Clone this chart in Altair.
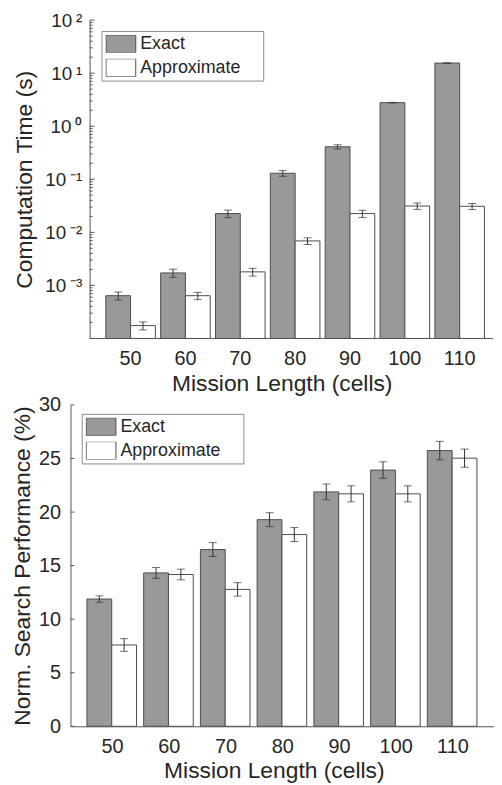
import altair as alt
import pandas as pd

# ---------------- data ----------------
lengths = [50, 60, 70, 80, 90, 100, 110]
series = ["Exact", "Approximate"]

time_exact = [6.4e-4, 1.72e-3, 0.0226, 0.13, 0.41, 2.78, 15.5]
time_exact_err = [1.1e-4, 0.3e-3, 0.0037, 0.016, 0.038, 0.03, 0.15]
time_approx = [1.75e-4, 6.4e-4, 1.8e-3, 6.9e-3, 0.0226, 0.0314, 0.031]
time_approx_err = [0.3e-4, 1.0e-4, 0.3e-3, 1.0e-3, 0.0035, 0.0043, 0.0040]

perf_exact = [11.88, 14.32, 16.5, 19.29, 21.88, 23.92, 25.74]
perf_exact_err = [0.3, 0.5, 0.65, 0.65, 0.74, 0.77, 0.86]
perf_approx = [7.59, 14.17, 12.78, 17.9, 21.7, 21.7, 25.03]
perf_approx_err = [0.59, 0.5, 0.63, 0.65, 0.75, 0.75, 0.85]

log_tick_values = [1e-3, 1e-2, 1e-1, 1e0, 1e1, 1e2]
log_tick_labels = ["10\u2009\u207b\u00b3", "10\u2009\u207b\u00b2", "10\u2009\u207b\u00b9",
                   "10\u2009\u2070", "10\u2009\u00b9", "10\u2009\u00b2"]
log_minor_values = [k * 10.0 ** e for e in range(-4, 2) for k in range(2, 10)]
lin_tick_values = [0, 5, 10, 15, 20, 25, 30]

LOG_MIN, LOG_MAX = 1e-4, 1e2

# ---------------- style ----------------
FONT = "Liberation Sans"
TXT = "#262626"
AXC = "#555555"
BAR_EDGE = "#4d4d4d"
ERR = "#333333"
TOP_SHIFT = 19.3   # top panel's y axis sits this far inside its view


def long_df(exact, exact_err, approx, approx_err, base):
    rows = []
    for i, L in enumerate(lengths):
        for s, v, e in (("Exact", exact[i], exact_err[i]), ("Approximate", approx[i], approx_err[i])):
            rows.append(dict(length=L, series=s, value=v, lo=v - e, hi=v + e, base=base))
    return pd.DataFrame(rows)


top_df = long_df(time_exact, time_exact_err, time_approx, time_approx_err, LOG_MIN)
bot_df = long_df(perf_exact, perf_exact_err, perf_approx, perf_approx_err, 0.0)

major_log_df = pd.DataFrame({"v": log_tick_values})
minor_log_df = pd.DataFrame({"v": log_minor_values})
lin_ticks_df = pd.DataFrame({"v": lin_tick_values})
base_line_df = pd.DataFrame({"v": [LOG_MIN]})

label_expr = "[" + ",".join("'" + s + "'" for s in log_tick_labels) + "][round(log(datum.value)/LN10)+3]"


def panel(df, y_scale, y_axis, y_title, ticks_layers, width, height, x_scale_kw,
          legx, legy, x_domain=True, x_title_x=None, axis_shift=0.0):
    x_scale = alt.Scale(**x_scale_kw)
    x_axis_kw = dict(labelAngle=0, ticks=False, labelPadding=10, titlePadding=4,
                     labelFontSize=20, titleFontSize=23, labelFont=FONT, titleFont=FONT,
                     labelColor=TXT, titleColor=TXT, titleFontWeight="normal",
                     domain=x_domain, domainColor=AXC, domainWidth=1)
    if x_title_x is not None:
        x_axis_kw["titleX"] = x_title_x
    x_enc = alt.X("length:O", title="Mission Length (cells)", scale=x_scale, axis=alt.Axis(**x_axis_kw))
    xo = alt.XOffset("series:N", sort=series,
                     scale=alt.Scale(domain=series, paddingInner=0, paddingOuter=0))

    def yenc(field):
        return alt.Y(field, title=y_title, scale=y_scale, axis=y_axis)

    base = alt.Chart(df)
    bars = base.mark_bar(stroke=BAR_EDGE, strokeWidth=1).encode(
        x=x_enc,
        xOffset=xo,
        y=yenc("value:Q"),
        y2="base:Q",
        color=alt.Color(
            "series:N",
            sort=series,
            scale=alt.Scale(domain=series, range=["#999999", "#ffffff"]),
            legend=alt.Legend(
                orient="none", legendX=legx, legendY=legy, title=None,
                symbolType="M-1,-0.6H1V0.6H-1Z", symbolSize=900,
                symbolStrokeColor=BAR_EDGE, symbolStrokeWidth=1,
                labelFontSize=18, labelFont=FONT, labelColor=TXT,
                padding=4, strokeColor="#8c8c8c", fillColor="white",
                clipHeight=18, rowPadding=6, labelOffset=4,
                labelExpr="datum.label + '\u00a0\u2800'",
            ),
        ),
    )
    err = base.mark_rule(color=ERR, strokeWidth=1).encode(
        x=x_enc, xOffset=xo, y=yenc("lo:Q"), y2="hi:Q")
    cap_lo = base.mark_tick(color=ERR, size=8, thickness=1).encode(
        x=x_enc, xOffset=xo, y=yenc("lo:Q"))
    cap_hi = base.mark_tick(color=ERR, size=8, thickness=1).encode(
        x=x_enc, xOffset=xo, y=yenc("hi:Q"))
    layers = [bars, err, cap_lo, cap_hi]
    for tdf, tlen in ticks_layers:
        layers.append(
            alt.Chart(tdf).mark_rule(color=AXC, strokeWidth=1).encode(
                y=yenc("v:Q"),
                x=alt.value(axis_shift), x2=alt.value(axis_shift + tlen),
            )
        )
    if not x_domain:
        layers.append(
            alt.Chart(base_line_df).mark_rule(color=AXC, strokeWidth=1).encode(
                y=yenc("v:Q"),
                x=alt.value(axis_shift), x2=alt.value(width),
            )
        )
    return alt.layer(*layers).properties(width=width, height=height)


top_scale = alt.Scale(type="log", domain=[LOG_MIN, LOG_MAX], nice=False)
top_axis = alt.Axis(values=log_tick_values, labelExpr=label_expr, ticks=False, grid=False,
                    offset=-TOP_SHIFT,
                    labelPadding=8, titlePadding=8, labelFontSize=19, titleFontSize=23,
                    labelFont=FONT, titleFont=FONT, labelColor=TXT, titleColor=TXT,
                    titleFontWeight="normal", domainColor=AXC, domainWidth=1)
bot_scale = alt.Scale(domain=[0, 30], nice=False)
bot_axis = alt.Axis(values=lin_tick_values, ticks=False, grid=False,
                    labelPadding=10, titlePadding=4, labelFontSize=20, titleFontSize=23,
                    labelFont=FONT, titleFont=FONT, labelColor=TXT, titleColor=TXT,
                    titleFontWeight="normal", domainColor=AXC, domainWidth=1)

top = panel(top_df, top_scale, top_axis, "Computation Time (s)",
            [(major_log_df, 5), (minor_log_df, 3)],
            426, 321,
            dict(paddingInner=0.096, paddingOuter=0.3996, align=0.8054),
            31.3, 11, x_domain=False, axis_shift=TOP_SHIFT)
bottom = panel(bot_df, bot_scale, bot_axis, "Norm. Search Performance (%)",
               [(lin_ticks_df, 4)],
               426.3, 324,
               dict(paddingInner=0.10, paddingOuter=0.2762, align=0.525),
               11.3, 9, x_title_x=205)

chart = (
    alt.concat(top, bottom, columns=1, spacing=0, bounds="full")
    .resolve_scale(color="independent", x="independent", y="independent")
    .resolve_legend(color="independent")
    .properties(padding={"left": 3, "top": 0, "right": 0, "bottom": 0})
    .configure_view(strokeWidth=0)
)

chart.save("out.html", embed_options={"renderer": "svg", "actions": False})
